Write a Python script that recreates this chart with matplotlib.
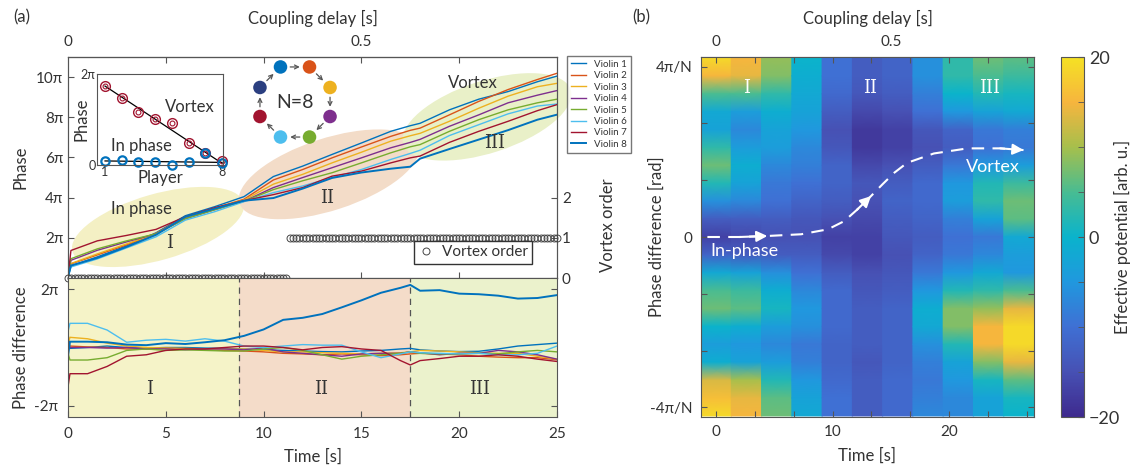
import numpy as np
import matplotlib
matplotlib.use('Agg')
import matplotlib.pyplot as plt
from matplotlib.patches import Ellipse
from matplotlib.colors import LinearSegmentedColormap, Normalize
from matplotlib.cm import ScalarMappable
from matplotlib.ticker import MultipleLocator
from matplotlib.transforms import ScaledTranslation

plt.rcParams['font.family'] = ['Lato', 'DejaVu Sans']
plt.rcParams['axes.edgecolor'] = '#555555'
plt.rcParams['axes.linewidth'] = 0.8
plt.rcParams['xtick.color'] = '#555555'
plt.rcParams['ytick.color'] = '#555555'
plt.rcParams['xtick.labelcolor'] = '#333333'
plt.rcParams['ytick.labelcolor'] = '#333333'
plt.rcParams['xtick.direction'] = 'in'
plt.rcParams['ytick.direction'] = 'in'
plt.rcParams['text.color'] = '#333333'
plt.rcParams['axes.labelcolor'] = '#333333'

# ---------------- data ----------------
violin_names = ['Violin %d' % i for i in range(1, 9)]
violin_colors = ['#0072BD', '#D95319', '#EDB120', '#7E2F8E',
                 '#77AC30', '#4DBEEE', '#A2142F', '#0072BD']
violin_lw = [1.0, 1.0, 1.0, 1.0, 1.0, 1.0, 1.0, 1.4]

# phase of each violin, in units of pi
phase_t = [0, 0.15, 1.5, 3, 4.5, 6, 7.5, 9, 10.5, 12, 13.5, 15, 16.5, 17.5,
           18, 19.5, 21, 22.5, 24, 25]
phase_1 = [0.05, 0.60, 1.05, 1.60, 2.25, 3.10, 3.55, 4.05, 5.05, 5.57, 6.15, 6.72,
           7.30, 7.58, 7.70, 8.37, 8.90, 9.28, 9.77, 10.05]
phase_2 = [0.05, 0.70, 1.15, 1.65, 2.22, 3.05, 3.48, 3.92, 4.88, 5.40, 5.98, 6.52,
           7.05, 7.35, 7.46, 8.12, 8.79, 9.38, 9.88, 10.19]
phase_3 = [0.05, 0.72, 1.20, 1.70, 2.20, 3.00, 3.45, 3.88, 4.67, 5.16, 5.73, 6.26,
           6.81, 7.08, 7.20, 7.80, 8.45, 9.05, 9.52, 9.69]
phase_4 = [0.05, 0.88, 1.38, 1.80, 2.20, 2.95, 3.40, 3.82, 4.50, 5.00, 5.49, 5.98,
           6.48, 6.75, 6.90, 7.55, 8.12, 8.72, 9.10, 9.33]
phase_5 = [0.05, 0.96, 1.45, 1.85, 2.20, 2.95, 3.40, 3.82, 4.40, 4.84, 5.24, 5.73,
           6.23, 6.53, 6.64, 7.30, 7.88, 8.37, 8.72, 8.90]
phase_6 = [0.05, 0.55, 0.95, 1.50, 2.05, 2.88, 3.30, 3.80, 4.25, 4.58, 5.00, 5.40,
           5.90, 6.20, 6.36, 7.09, 7.63, 8.17, 8.56, 8.66]
phase_7 = [0.05, 1.37, 1.85, 2.12, 2.42, 3.05, 3.50, 3.85, 4.15, 4.50, 5.07, 5.32,
           5.73, 5.98, 6.07, 6.75, 7.30, 7.80, 8.33, 8.63]
phase_8 = [0.05, 0.62, 1.00, 1.55, 2.15, 3.05, 3.45, 3.85, 3.98, 4.45, 4.98, 5.25,
           5.44, 5.54, 5.94, 6.42, 6.89, 7.36, 7.88, 8.13]
phases = [phase_1, phase_2, phase_3, phase_4, phase_5, phase_6, phase_7, phase_8]

# vortex order (sampled every 1/6 s)
order_t = np.arange(151) / 6.0
vortex_order = [0] * 68 + [1] * 83

# phase differences, in units of pi
diff_t = [0, 0.1, 1, 2, 3, 4, 5, 6, 7, 8, 9, 10, 11, 12, 13, 14, 15, 16, 17,
          17.5, 18, 19, 20, 21, 22, 23, 24, 25]
diff_1 = [0.47, -0.03, 0.0, 0.05, 0.0, -0.02, 0.0, 0.0, -0.02, -0.03, -0.05, -0.08,
          -0.10, -0.12, -0.14, -0.15, -0.12, -0.10, -0.05, -0.03, -0.08, -0.12,
          -0.14, -0.13, -0.05, 0.05, 0.10, 0.15]
diff_2 = [0.0, 0.05, 0.02, 0.0, -0.05, -0.05, -0.02, -0.05, -0.08, -0.10, -0.12,
          -0.15, -0.20, -0.22, -0.25, -0.22, -0.25, -0.28, -0.25, -0.22, -0.20,
          -0.22, -0.25, -0.30, -0.33, -0.35, -0.35, -0.42]
diff_3 = [0.10, 0.35, 0.30, 0.15, 0.05, 0.0, -0.02, -0.03, -0.05, -0.05, -0.05,
          -0.10, -0.15, -0.15, -0.18, -0.20, -0.22, -0.20, -0.18, -0.15, -0.10,
          -0.12, -0.15, -0.18, -0.20, -0.20, -0.30, -0.40]
diff_4 = [0.0, 0.0, 0.0, -0.02, 0.0, -0.05, -0.05, -0.08, -0.05, -0.05, -0.08,
          -0.02, -0.15, -0.20, -0.25, -0.30, -0.22, -0.20, -0.20, -0.15, -0.18,
          -0.25, -0.20, -0.20, -0.10, -0.15, -0.25, -0.40]
diff_5 = [-0.20, -0.43, -0.43, -0.35, -0.10, -0.05, -0.10, -0.08, -0.10, -0.12,
          -0.12, -0.05, 0.0, -0.10, -0.25, -0.40, -0.30, -0.25, -0.20, -0.15,
          -0.20, -0.22, -0.22, -0.20, -0.22, -0.15, -0.10, -0.15]
diff_6 = [0.55, 0.83, 0.83, 0.60, 0.18, 0.25, 0.28, 0.22, 0.30, 0.22, 0.05, 0.0,
          0.05, 0.10, 0.08, 0.08, -0.15, -0.35, -0.22, -0.15, -0.18, -0.20, -0.22,
          -0.20, -0.25, -0.25, -0.20, 0.05]
diff_7 = [-1.35, -0.90, -0.90, -0.65, -0.30, -0.25, -0.10, -0.05, -0.05, 0.0, 0.05,
          0.05, 0.0, -0.08, 0.0, 0.03, -0.05, -0.10, -0.45, -0.60, -0.45, -0.38,
          -0.30, -0.30, -0.25, -0.30, -0.40, -0.48]
diff_8 = [-0.30, 0.20, 0.20, 0.18, 0.10, 0.08, 0.15, 0.12, 0.18, 0.25, 0.40, 0.62,
          0.95, 1.02, 1.15, 1.38, 1.62, 1.88, 2.05, 2.15, 1.95, 1.97, 1.85, 1.83,
          1.78, 1.68, 1.70, 1.80]
diffs = [diff_1, diff_2, diff_3, diff_4, diff_5, diff_6, diff_7, diff_8]

regions = ['I', 'II', 'III']
region_bounds = [0, 8.75, 17.5, 25]
region_colors = ['#f5f3c8', '#f4dcc9', '#ebf2cc']

# inset: phase vs player
players = [1, 2, 3, 4, 5, 6, 7, 8]
vortex_phase = [5.45, 4.65, 3.66, 3.16, 2.88, 1.54, 0.85, 0.28]
inphase_phase = [0.28, 0.34, 0.23, 0.23, 0.02, 0.18, 0.85, 0.16]
vortex_fit = [5.45, 0.12]
inphase_fit = [0.28, 0.18]

ring_colors = ['#0072BD', '#D95319', '#EDB120', '#7E2F8E',
               '#77AC30', '#4DBEEE', '#A2142F', '#2B3F80']

# effective potential map: column times, 21 levels from +1.05 to -1.05 (x 4pi/N)
heat_t = [0, 2.6, 5.2, 7.8, 10.4, 13.0, 15.6, 18.2, 20.8, 23.4, 26.0]
heat_cols = [
    [19, 15, 5, -2, -3, 3, 7, 2, -6, -13, -17, -12, -2, 5, 7, 0, -4, -1, 13, 16, 19],
    [15, 14, 5, -4, -7, -4, -1, -3, -7, -13, -16, -13, -3, 4, 6, -1, -5, -3, 10, 14, 15],
    [9, 8, 3, -1, -3, -4, -7, -9, -10, -13, -15, -13, -6, -1, 1, -4, -7, -4, 2, 6, 7],
    [0, -1, -2, -3, -5, -7, -8, -10, -12, -14, -15, -13, -10, -7, -5, -6, -9, -8, -5, -3, -2],
    [-10, -10, -11, -13, -15, -14, -12, -12, -13, -15, -17, -16, -13, -11, -11, -11, -12, -12, -11, -10, -10],
    [-13, -13, -14, -16, -18, -18, -16, -14, -15, -16, -17, -17, -15, -14, -13, -13, -13, -14, -13, -13, -13],
    [-12, -12, -13, -15, -17, -17, -15, -13, -12, -13, -14, -15, -14, -13, -12, -12, -12, -12, -11, -11, -11],
    [-6, -6, -8, -10, -14, -15, -13, -11, -11, -12, -13, -12, -9, -5, -1, -2, -6, -8, -9, -8, -7],
    [3, 3, 0, -5, -12, -13, -9, -5, -4, -8, -10, -9, -5, 2, 8, 8, 2, -3, -5, -7, -7],
    [7, 5, 2, -3, -9, -10, -5, 2, 3, -3, -9, -7, -2, 3, 9, 15, 15, 8, 1, -3, -3],
    [6, 4, 1, -2, -8, -9, -4, 4, 7, 6, -2, -4, -5, 5, 14, 19, 19, 14, 6, 1, 0],
]
heat_u = np.linspace(1.05, -1.05, 21)

# dashed trajectory on the map (time, phase difference in 4pi/N)
path_t = [-0.75, 2.0, 4.4, 7.3, 9.6, 11.0, 12.1, 13.3, 14.3, 15.3, 16.4, 18.7, 21.6, 24.4, 26.4]
path_u = [0.0, 0.0, 0.006, 0.016, 0.045, 0.093, 0.16, 0.24, 0.31, 0.377, 0.435, 0.49, 0.52, 0.52, 0.51]

parula = LinearSegmentedColormap.from_list('parula_like', [
    (0.0, '#3e2a8e'), (0.125, '#4751b4'), (0.25, '#3f70d4'), (0.375, '#2098de'),
    (0.5, '#0ab3cc'), (0.625, '#48bc92'), (0.75, '#a6bf4c'), (0.875, '#f6b53e'),
    (1.0, '#f5e124')])

# ---------------- figure ----------------
W, H, DPI = 1133, 474, 100
fig = plt.figure(figsize=(W / DPI, H / DPI), dpi=DPI)


def box(x0, y0, x1, y1):
    # pixel box (from top-left) -> figure fraction rect
    return [x0 / W, 1 - y1 / H, (x1 - x0) / W, (y1 - y0) / H]


def blob(ax, t, v, w, h, ang, color):
    tr = fig.dpi_scale_trans + ScaledTranslation(t, v * np.pi, ax.transData)
    ax.add_patch(Ellipse((0, 0), w / DPI, h / DPI, angle=ang, facecolor=color,
                         edgecolor='none', transform=tr, zorder=0, clip_on=False))


pi_fmt = lambda k: '%dπ' % k

# ---- (a) top: phases ----
ax1 = fig.add_axes(box(68, 57, 557, 278))
blob(ax1, 4.6, 2.54, 178, 66, 16, '#f4f0c4')
blob(ax1, 13.34, 5.16, 188, 72, 18, '#f3dcc8')
blob(ax1, 21.42, 8.02, 176, 72, 18, '#e9f0c8')
lines = []
for i in range(8):
    ln, = ax1.plot(phase_t, np.array(phases[i]) * np.pi, color=violin_colors[i],
                   lw=violin_lw[i], label=violin_names[i], zorder=2)
    lines.append(ln)
ax1.set_xlim(0, 25)
ax1.set_ylim(0, 11 * np.pi)
ax1.set_yticks(np.arange(2, 11, 2) * np.pi)
ax1.set_yticklabels([pi_fmt(k) for k in range(2, 11, 2)], fontsize=11)
ax1.set_xticks([5, 10, 15, 20])
ax1.set_xticklabels([])
ax1.tick_params(top=True, length=4)
ax1.set_ylabel('Phase', fontsize=12)
ax1.yaxis.set_label_coords(-0.08, 0.5)
ax1.text(3.78, 3.43 * np.pi, 'In phase', fontsize=12, ha='center', va='center')
ax1.text(5.2, 1.75 * np.pi, 'I', fontsize=13, ha='center', va='center', family='serif')
ax1.text(13.24, 3.97 * np.pi, 'II', fontsize=13, ha='center', va='center', family='serif')
ax1.text(20.7, 9.7 * np.pi, 'Vortex', fontsize=12, ha='center', va='center')
ax1.text(21.83, 6.74 * np.pi, 'III', fontsize=13, ha='center', va='center', family='serif')

sec = ax1.secondary_xaxis('top', functions=(lambda t: t / 30.0, lambda c: c * 30.0))
sec.set_xticks([0, 0.5])
sec.set_xticklabels(['0', '0.5'], fontsize=11)
sec.tick_params(length=0, pad=6)
sec.set_xlabel('Coupling delay [s]', fontsize=12, labelpad=8)

ax1r = ax1.twinx()
ax1r.plot(order_t, vortex_order, ls='none', marker='o', ms=5, mfc='none',
          mec='#444444', mew=0.7, clip_on=False, label='Vortex order', zorder=5)
ax1r.set_ylim(0, 5.5)
ax1r.set_yticks([0, 1, 2])
ax1r.set_yticklabels(['0', '1', '2'], fontsize=11)
ax1r.tick_params(length=4)
ax1r.set_ylabel('Vortex order', fontsize=12)
ax1r.yaxis.set_label_coords(1.088, 0.24)
ax1r.legend(loc='lower right', bbox_to_anchor=(0.965, 0.03), fontsize=11,
            frameon=True, fancybox=False, edgecolor='#333333', framealpha=1,
            handlelength=1.0, borderpad=0.3, handletextpad=0.5)

fig.legend(handles=lines, loc='upper left', bbox_to_anchor=(567 / W, 1 - 56 / H),
           fontsize=7, frameon=True, fancybox=False, edgecolor='#555555',
           handlelength=1.6, labelspacing=0.25, borderpad=0.4, borderaxespad=0)

# inset
axi = fig.add_axes(box(97, 74, 223, 165))
axi.plot(players[::7], vortex_fit, color='black', lw=0.9)
axi.plot(players[::7], inphase_fit, color='black', lw=0.9)
axi.plot(players, vortex_phase, ls='none', marker='o', ms=7, mfc='none',
         mec='#A2142F', mew=1.0, clip_on=False)
axi.plot(players, vortex_phase, ls='none', marker='o', ms=3.5, mfc='none',
         mec='#A2142F', mew=0.8, clip_on=False)
axi.plot(players, inphase_phase, ls='none', marker='o', ms=6, mfc='none',
         mec='#0072BD', mew=1.6, clip_on=False)
axi.set_xlim(0.52, 8.06)
axi.set_ylim(0, 2 * np.pi)
axi.set_xticks([1, 8])
axi.set_xticklabels(['1', '8'], fontsize=9)
axi.set_yticks([0, 2 * np.pi])
axi.set_yticklabels(['0', '2π'], fontsize=9)
axi.tick_params(length=0, pad=1)
axi.set_xlabel('Player', fontsize=12, labelpad=-6)
axi.set_ylabel('Phase', fontsize=12, labelpad=-6)
axi.text(6.09, 4.03, 'Vortex', fontsize=12, ha='center', va='center')
axi.text(3.2, 1.31, 'In phase', fontsize=12, ha='center', va='center')

# ring of N=8 players
axr = fig.add_axes(box(240, 47, 350, 157))
axr.set_xlim(-1.45, 1.45)
axr.set_ylim(-1.45, 1.45)
axr.axis('off')
ang = np.deg2rad(112.5 - 45 * np.arange(8))
rx, ry = np.cos(ang), np.sin(ang)
for i in range(8):
    j = (i + 1) % 8
    axr.annotate('', xy=(rx[j], ry[j]), xytext=(rx[i], ry[i]),
                 arrowprops=dict(arrowstyle='->', color='#555555', lw=0.9,
                                 shrinkA=7, shrinkB=7, mutation_scale=7))
axr.scatter(rx, ry, s=95, c=ring_colors, edgecolors='none', zorder=3)
axr.text(0, 0, 'N=8', fontsize=14, ha='center', va='center')

# ---- (a) bottom: phase differences ----
ax2 = fig.add_axes(box(68, 278, 557, 417))
for k in range(3):
    ax2.axvspan(region_bounds[k], region_bounds[k + 1], color=region_colors[k],
                lw=0, zorder=0)
    ax2.text((region_bounds[k] + region_bounds[k + 1]) / 2 - 0.2, -1.42 * np.pi,
             regions[k], fontsize=13, ha='center', va='center', family='serif')
for xb in region_bounds[1:3]:
    ax2.axvline(xb, color='#555555', lw=0.9, ls=(0, (5, 4)), zorder=1)
for i in range(8):
    ax2.plot(diff_t, np.array(diffs[i]) * np.pi, color=violin_colors[i],
             lw=violin_lw[i], zorder=2)
ax2.set_xlim(0, 25)
ax2.set_ylim(-7.5, 7.5)
ax2.set_yticks([-2 * np.pi, 2 * np.pi])
ax2.set_yticklabels(['-2π', '2π'], fontsize=11)
ax2.set_xticks(np.arange(0, 26, 5))
ax2.set_xticklabels([str(v) for v in range(0, 26, 5)], fontsize=11)
ax2.tick_params(right=True, length=4, pad=7)
ax2.set_xlabel('Time [s]', fontsize=12, labelpad=6)
ax2.set_ylabel('Phase difference', fontsize=12)
ax2.yaxis.set_label_coords(-0.08, 0.5)

# ---- (b) effective potential ----
axb = fig.add_axes(box(701, 57, 1034, 417))
dt = heat_t[1] - heat_t[0]
levels = heat_u * np.pi / 2
for j, tc in enumerate(heat_t):
    col = np.array(heat_cols[j], float)
    X = np.column_stack([np.full(len(levels), tc - dt / 2), np.full(len(levels), tc + dt / 2)])
    Y = np.column_stack([levels, levels])
    C = np.column_stack([col, col])
    axb.pcolormesh(X, Y, C, shading='gouraud', cmap=parula, vmin=-20, vmax=20,
                   rasterized=True)
axb.plot(path_t, np.array(path_u) * np.pi / 2, color='white', lw=1.5,
         ls=(0, (6, 4)), zorder=3)
for k in [2, 7, 14]:
    axb.annotate('', xy=(path_t[k], path_u[k] * np.pi / 2),
                 xytext=(path_t[k - 1], path_u[k - 1] * np.pi / 2),
                 arrowprops=dict(arrowstyle='-|>', color='white', lw=1.5,
                                 mutation_scale=16, shrinkA=0, shrinkB=0), zorder=4)
axb.text(2.4, -0.08 * np.pi / 2, 'In-phase', color='white', fontsize=13,
         ha='center', va='center')
axb.text(23.8, 0.41 * np.pi / 2, 'Vortex', color='white', fontsize=13,
         ha='center', va='center')
for lab, tx in zip(regions, [2.6, 13.2, 23.5]):
    axb.text(tx, 0.877 * np.pi / 2, lab, color='white', fontsize=13,
             ha='center', va='center', family='serif')
axb.set_xlim(heat_t[0] - dt / 2, heat_t[-1] + dt / 2)
axb.set_ylim(-1.056 * np.pi / 2, 1.056 * np.pi / 2)
xt = np.arange(9) * 10 / 3
axb.set_xticks(xt)
axb.set_xticklabels(['0', '', '', '10', '', '', '20', '', ''], fontsize=11)
yt = np.arange(-3, 4) * np.pi / 6
axb.set_yticks(yt)
axb.set_yticklabels(['-4π/N', '', '', '0', '', '', '4π/N'], fontsize=11)
axb.tick_params(top=True, right=True, length=4, pad=6)
axb.set_xlabel('Time [s]', fontsize=12, labelpad=6)
axb.set_ylabel('Phase difference [rad]', fontsize=12)
axb.yaxis.set_label_coords(-0.108, 0.5)
secb = axb.secondary_xaxis('top', functions=(lambda t: t / 30.0, lambda c: c * 30.0))
secb.set_xticks([0, 0.5])
secb.set_xticklabels(['0', '0.5'], fontsize=11)
secb.tick_params(length=0, pad=6)
secb.set_xlabel('Coupling delay [s]', fontsize=12, labelpad=8)

cax = fig.add_axes(box(1061, 57, 1084, 417))
cb = fig.colorbar(ScalarMappable(Normalize(-20, 20), parula), cax=cax, ticks=[-20, 0, 20])
cb.ax.yaxis.set_minor_locator(MultipleLocator(5))
cb.ax.tick_params(which='both', direction='in', length=4, labelsize=13)
cb.outline.set_edgecolor('#555555')
cb.set_label('Effective potential [arb. u.]', fontsize=12)
cb.ax.yaxis.set_label_coords(2.3, 0.5)

fig.text(22 / W, 1 - 17 / H, '(a)', fontsize=12, ha='center', va='center')
fig.text(641 / W, 1 - 17 / H, '(b)', fontsize=12, ha='center', va='center')

fig.savefig('out.png', dpi=DPI)
